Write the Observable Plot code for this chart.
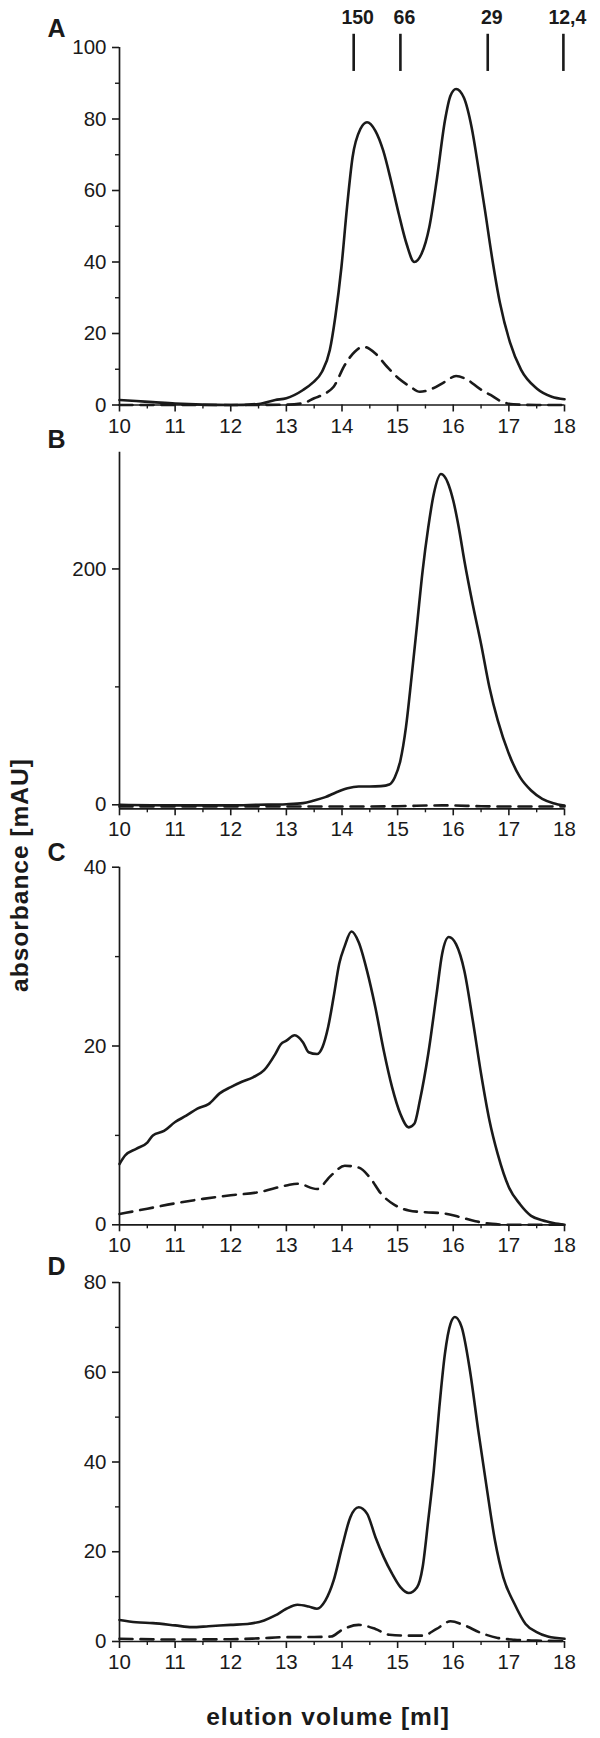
<!DOCTYPE html>
<html>
<head>
<meta charset="utf-8">
<script src="https://cdn.jsdelivr.net/npm/d3@7"></script>
<script src="https://cdn.jsdelivr.net/npm/@observablehq/plot@0.6"></script>
<style>
  body { margin: 0; background: #fff; }
  #wrap { position: relative; width: 600px; height: 1738px; overflow: hidden; background: #fff; }
  .panel { position: absolute; left: 0; }
  #overlay { position: absolute; left: 0; top: 0; pointer-events: none; }
</style>
</head>
<body>
<div id="wrap"></div>
<script>
// ---------- data ----------
const xMajor = [10, 11, 12, 13, 14, 15, 16, 17, 18];
const xMinor = [10.5, 11.5, 12.5, 13.5, 14.5, 15.5, 16.5, 17.5];

const markerX = [14.21, 15.05, 16.62, 17.98];
const markerLabels = ["150", "66", "29", "12,4"];

const panelLetters = ["A", "B", "C", "D"];

// Panel A
const aSolidX = [10,10.3,10.6,11,11.5,12,12.5,12.8,13,13.3,13.47,13.64,13.78,13.88,13.99,14.09,14.19,14.33,14.45,14.6,14.74,14.88,15.02,15.16,15.3,15.43,15.57,15.71,15.85,15.95,16.05,16.19,16.33,16.46,16.57,16.7,16.84,17.02,17.22,17.5,17.77,18];
const aSolidY = [1.4,1.1,0.8,0.4,0.1,0,0.3,1.4,1.9,4.2,6.2,9.3,15.3,24.7,38.6,55.3,69.3,77.2,79.1,76.7,71.2,62.8,53.5,45.1,40.0,42.3,49.8,63.7,79.5,86.5,88.4,86,77.7,65.5,54.5,41.0,28.5,17.5,9.8,4.6,2.3,1.6];
const aDashX = [10,11,12,13,13.3,13.5,13.71,13.85,14.05,14.23,14.38,14.6,14.81,15.02,15.23,15.4,15.64,15.85,16.05,16.26,16.46,16.67,16.88,17.08,17.5,18];
const aDashY = [0,0,0,0.1,0.5,1.9,3.3,5.1,11.2,14.9,16.3,14.4,10.7,7.4,5.1,3.7,4.7,6.5,8.1,7.0,4.7,2.8,0.9,0.2,0,0];
const aTicks = [0,20,40,60,80,100];
const aMinor = [10,30,50,70,90];

// Panel B
const bSolidX = [10,11,12,12.5,13,13.3,13.5,13.7,13.9,14.1,14.3,14.5,14.7,14.85,14.95,15.05,15.15,15.25,15.35,15.45,15.55,15.65,15.78,15.9,16.0,16.1,16.2,16.35,16.5,16.65,16.8,17,17.2,17.4,17.6,17.8,18];
const bSolidY = [0,-0.5,-0.5,0,0.5,1.4,3.7,6.5,10.7,14.1,15.5,15.5,15.8,17.2,23.4,37.6,65.8,108,153,198.6,235,263.6,280.5,273.4,258,235,207,170,136.4,99.7,71.5,43.2,23.4,12.1,5.1,1.4,-0.6];
const bDashX = [10,12,13,14,15,15.8,16.5,17,18];
const bDashY = [-1.5,-1.5,-1.5,-1.5,-1.2,-0.5,-1.2,-1.5,-1.5];
const bTicks = [0,200];
const bMinor = [100];

// Panel C
const cSolidX = [10,10.1,10.3,10.5,10.6,10.8,11,11.2,11.4,11.6,11.8,12,12.2,12.4,12.6,12.8,12.9,13,13.15,13.3,13.4,13.55,13.65,13.75,13.85,13.95,14.05,14.17,14.3,14.45,14.6,14.75,14.9,15.05,15.2,15.3,15.4,15.55,15.7,15.8,15.92,16.05,16.2,16.35,16.5,16.65,16.8,17,17.2,17.4,17.6,17.8,18];
const cSolidY = [6.8,7.75,8.5,9.2,10,10.5,11.5,12.2,13,13.5,14.7,15.4,16,16.5,17.3,19.1,20.2,20.6,21.2,20.4,19.3,19.1,19.9,22.1,25.5,29.2,31.2,32.8,31.6,28.4,24.3,19.5,15.4,12.4,10.9,11.3,13.9,19.1,25.8,30.3,32.2,31.4,28.4,22.9,16.9,11.7,7.9,4.2,2.3,1.0,0.5,0.2,0];
const cDashX = [10,10.5,11,11.5,12,12.5,13,13.2,13.55,13.8,14.05,14.3,14.5,14.7,14.95,15.2,15.5,15.8,16.1,16.4,16.7,17,18];
const cDashY = [1.2,1.8,2.4,2.9,3.3,3.65,4.4,4.6,4.0,5.5,6.6,6.4,5.3,3.5,2.2,1.6,1.4,1.3,0.9,0.4,0.1,0,0];
const cTicks = [0,20,40];
const cMinor = [10,30];

// Panel D
const dSolidX = [10,10.3,10.6,11,11.3,11.6,12,12.3,12.6,12.8,13,13.2,13.4,13.55,13.7,13.85,14,14.15,14.3,14.45,14.6,14.75,14.9,15.05,15.2,15.35,15.45,15.55,15.65,15.75,15.85,15.95,16.03,16.15,16.3,16.45,16.6,16.75,16.9,17.1,17.3,17.5,17.7,18];
const dSolidY = [4.8,4.3,4.1,3.6,3.2,3.4,3.7,3.9,4.7,5.8,7.3,8.2,7.8,7.3,9.1,13.6,21,27.7,29.9,28.5,23.3,18.8,15.1,12.1,10.8,12.1,16.6,27,38.1,52.2,64.1,70.8,72.3,70.1,60.4,47,34.4,22.5,14.3,8.4,3.9,2.1,1.1,0.6];
const dDashX = [10,11,12,12.5,13,13.5,13.8,14,14.3,14.6,14.85,15.2,15.45,15.7,15.95,16.2,16.5,16.8,17.1,17.5,18];
const dDashY = [0.6,0.45,0.5,0.7,0.97,1.0,1.1,2.6,3.7,2.8,1.5,1.3,1.3,2.8,4.5,3.6,1.9,0.8,0.4,0.2,0.1];
const dTicks = [0,20,40,60,80];
const dMinor = [10,30,50,70];

const xTitle = "elution volume [ml]";
const yTitle = "absorbance [mAU]";

// ---------- layout ----------
const INK = "#1a1a1a";
const FONT = "'Liberation Sans', Arial, Helvetica, sans-serif";
const zip = (xs, ys) => xs.map((x, i) => ({x, y: ys[i]}));

const panels = [
  {top: 0,    height: 440, mt: 47,   mb: 35.5, domain: [0, 100],   ticks: aTicks, minor: aMinor, solid: zip(aSolidX, aSolidY), dash: zip(aDashX, aDashY), markers: true},
  {top: 440,  height: 405, mt: 11.7, mb: 36.7, domain: [-3.4, 299], ticks: bTicks, minor: bMinor, solid: zip(bSolidX, bSolidY), dash: zip(bDashX, bDashY)},
  {top: 845,  height: 415, mt: 21.7, mb: 35.7, domain: [0, 40],    ticks: cTicks, minor: cMinor, solid: zip(cSolidX, cSolidY), dash: zip(cDashX, cDashY)},
  {top: 1260, height: 420, mt: 22,   mb: 39,   domain: [0, 80],    ticks: dTicks, minor: dMinor, solid: zip(dSolidX, dSolidY), dash: zip(dDashX, dDashY)}
];

const wrap = document.getElementById("wrap");

panels.forEach((p) => {
  const marks = [
    Plot.axisX({ticks: xMajor, tickSize: 7, tickPadding: 6, label: null, tickFormat: d => String(d), strokeWidth: 1.6}),
    Plot.axisX({ticks: xMinor, tickSize: 4, label: null, tickFormat: () => "", strokeWidth: 1.4}),
    Plot.axisY({ticks: p.ticks, tickSize: 7, tickPadding: 6, label: null, tickFormat: d => String(d), strokeWidth: 1.6}),
    Plot.axisY({ticks: p.minor, tickSize: 4, label: null, tickFormat: () => "", strokeWidth: 1.4}),
    Plot.ruleY([p.domain[0]], {stroke: INK, strokeWidth: 1.7}),
    Plot.ruleX([10], {stroke: INK, strokeWidth: 1.7}),
    Plot.line(p.dash, {x: "x", y: "y", curve: "monotone-x", stroke: INK, strokeWidth: 2.6, strokeDasharray: "13,8"}),
    Plot.line(p.solid, {x: "x", y: "y", curve: "monotone-x", stroke: INK, strokeWidth: 2.6})
  ];
  if (p.markers) {
    marks.push(Plot.ruleX(markerX, {y1: 93.3, y2: 103.7, stroke: INK, strokeWidth: 2.6}));
    marks.push(Plot.text(markerX.map((x, i) => ({x, label: markerLabels[i]})), {
      x: "x", y: () => 108.3, text: "label", dx: 4, fontWeight: "bold", fontSize: 19.5, fill: INK
    }));
  }
  const chart = Plot.plot({
    width: 600,
    height: p.height,
    marginLeft: 119,
    marginRight: 36,
    marginTop: p.mt,
    marginBottom: p.mb,
    x: {domain: [10, 18]},
    y: {domain: p.domain},
    style: {fontFamily: FONT, fontSize: "20.5px", color: INK, background: "transparent", overflow: "visible"},
    marks
  });
  chart.classList.add("panel");
  chart.style.top = p.top + "px";
  wrap.appendChild(chart);
});

// ---------- overlay text: panel letters and axis titles ----------
const svg = d3.select(wrap).append("svg")
  .attr("id", "overlay")
  .attr("width", 600)
  .attr("height", 1738)
  .style("font-family", FONT);

const letterY = [28, 438.5, 852, 1266];
svg.selectAll("text.letter").data(panelLetters).join("text")
  .attr("class", "letter")
  .attr("x", 56.5)
  .attr("y", (d, i) => letterY[i])
  .attr("text-anchor", "middle")
  .attr("dominant-baseline", "central")
  .attr("font-weight", "bold")
  .attr("font-size", 25)
  .attr("fill", INK)
  .text(d => d);

svg.append("text")
  .attr("transform", "translate(19,875) rotate(-90)")
  .attr("text-anchor", "middle")
  .attr("dominant-baseline", "central")
  .attr("font-weight", "bold")
  .attr("font-size", 24.5)
  .attr("letter-spacing", 1)
  .attr("fill", INK)
  .text(yTitle);

svg.append("text")
  .attr("x", 328)
  .attr("y", 1716.7)
  .attr("text-anchor", "middle")
  .attr("dominant-baseline", "central")
  .attr("font-weight", "bold")
  .attr("font-size", 24.5)
  .attr("letter-spacing", 1)
  .attr("fill", INK)
  .text(xTitle);
</script>
</body>
</html>
